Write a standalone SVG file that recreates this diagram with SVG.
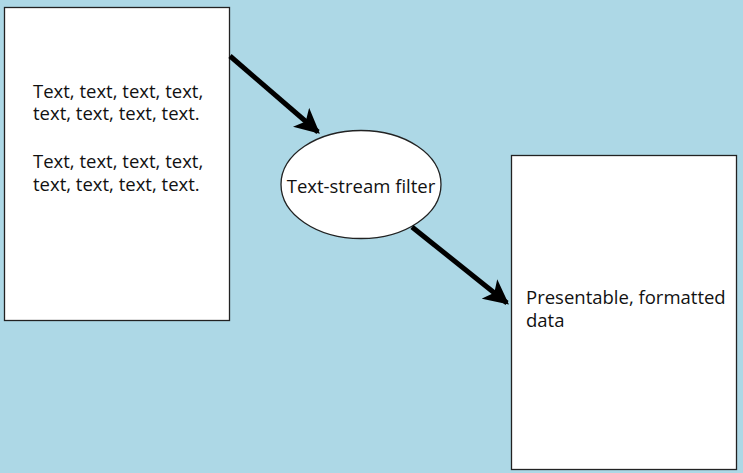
<svg xmlns="http://www.w3.org/2000/svg" width="743" height="473" viewBox="0 0 743 473">
<style>
.box{fill:#fff;stroke:#222;stroke-width:1.3}
.t{font-family:"Open Sans","Noto Sans",sans-serif;font-size:18.5px;fill:#111}
.c{stroke:#000;stroke-width:5;fill:none}
</style>
<defs>
<marker id="ah" viewBox="0 0 10 10" refX="9" refY="5" markerWidth="5" markerHeight="5" markerUnits="strokeWidth" orient="auto">
<path d="M0,0 L10,5 L0,10 L2.5,5 z" fill="#000"/>
</marker>
</defs>
<rect width="743" height="473" fill="#ADD8E6"/>
<g id="source">
<rect class="box" x="4.5" y="7.5" width="225" height="313"/>
<text class="t" x="33" y="98">Text, text, text, text,<tspan x="33" y="120">text, text, text, text.</tspan></text>
<text class="t" x="33" y="168">Text, text, text, text,<tspan x="33" y="190.5">text, text, text, text.</tspan></text>
</g>
<g id="filter">
<ellipse class="box" cx="361" cy="184.5" rx="80" ry="54"/>
<text class="t" x="361" y="193" text-anchor="middle">Text-stream filter</text>
</g>
<g id="output">
<rect class="box" x="511.5" y="155.5" width="225" height="314"/>
<text class="t" x="526" y="304">Presentable, formatted<tspan x="526" y="327">data</tspan></text>
</g>
<g id="connectors">
<line class="c" x1="230" y1="56" x2="318" y2="132" marker-end="url(#ah)"/>
<line class="c" x1="412" y1="227" x2="507" y2="303" marker-end="url(#ah)"/>
</g>
</svg>
